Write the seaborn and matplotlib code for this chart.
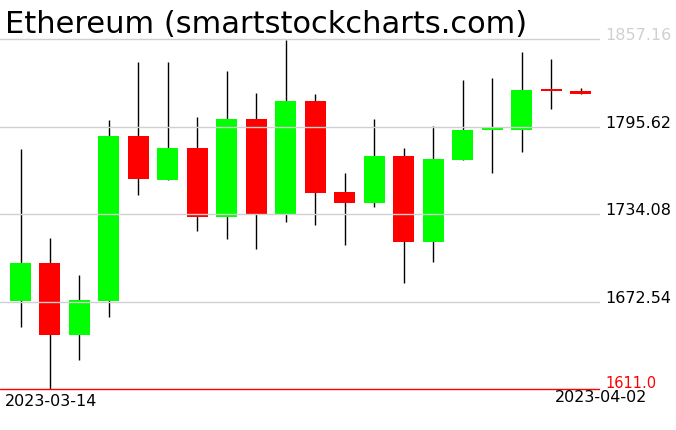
"""
Ethereum daily candles, 2023-03-14 .. 2023-04-02 (smartstockcharts style).
"""

import pandas as pd
import matplotlib
matplotlib.use("Agg")
import matplotlib.pyplot as plt
import seaborn as sns

sns.set_style("white")
plt.rcParams["font.family"] = ["DejaVu Sans"]
plt.rcParams["text.color"] = "black"

# data
dates = pd.date_range("2023-03-14", "2023-04-02", freq="D")
opens = [1673.2, 1699.7, 1649.2, 1673.2, 1789.1, 1758.2, 1780.7, 1732.3, 1801.1, 1734.2,
         1813.8, 1749.7, 1741.5, 1774.6, 1714.7, 1772.2, 1792.9, 1793.4, 1821.7, 1820.8]
highs = [1780.0, 1717.3, 1691.5, 1800.4, 1841.2, 1841.2, 1802.5, 1834.9, 1819.4, 1856.7,
         1818.7, 1763.1, 1801.1, 1780.7, 1796.0, 1828.6, 1830.0, 1847.8, 1843.4, 1822.6]
lows = [1654.9, 1611.0, 1631.6, 1661.9, 1747.1, 1757.7, 1721.8, 1716.8, 1709.8, 1728.8,
        1726.0, 1712.6, 1738.7, 1685.8, 1700.6, 1772.2, 1762.6, 1777.4, 1807.7, 1818.7]
closes = [1699.7, 1649.2, 1673.7, 1789.1, 1758.4, 1780.7, 1732.3, 1801.1, 1734.2, 1813.8,
          1749.2, 1741.5, 1774.6, 1714.7, 1772.9, 1793.4, 1794.3, 1821.5, 1820.3, 1818.7]
price_ticks = [1611.0, 1672.54, 1734.08, 1795.62, 1857.16]

df = pd.DataFrame({"date": dates, "open": opens, "high": highs,
                   "low": lows, "close": closes})
df["pos"] = range(len(df))
df["up"] = df["close"] >= df["open"]
df["body_lo"] = df[["open", "close"]].min(axis=1)
df["body_h"] = (df["open"] - df["close"]).abs()

fig = plt.figure(figsize=(6.76, 4.31), dpi=100)
ax = fig.add_axes([0, 0, 600 / 676, 1])

# wicks, then bodies on top
ax.vlines(df["pos"], df["low"], df["high"], color="black", linewidth=1, zorder=2)
colors = ["#00ff00" if u else "#ff0000" for u in df["up"]]
ax.bar(df["pos"], df["body_h"], bottom=df["body_lo"], width=0.713,
       color=colors, linewidth=0, zorder=3)

# grid and baseline
for t in price_ticks[1:]:
    ax.axhline(t, color="#d0d0d0", linewidth=1, zorder=4)
ax.axhline(price_ticks[0], color="#ff0000", linewidth=1, zorder=4)

px = (price_ticks[-1] - price_ticks[0]) / 350
ax.set_ylim(price_ticks[0] - 41 * px, price_ticks[-1] + 40 * px)
ax.set_xlim(-0.696, 19.66)
ax.set_xticks([])
ax.set_yticks([])
for s in ax.spines.values():
    s.set_visible(False)

# right-hand price labels
ytr = ax.get_yaxis_transform()
for t in price_ticks:
    if t == price_ticks[0]:
        c, fs, lab, dy = "#ff0000", 10.5, f"{t:.1f}", 2 * px
    elif t == price_ticks[-1]:
        c, fs, lab, dy = "#d0d0d0", 11.5, f"{t:.2f}", 0
    else:
        c, fs, lab, dy = "black", 11.5, f"{t:.2f}", 0
    ax.text(1 + 5 / 600, t + dy, lab, transform=ytr, color=c, fontsize=fs,
            va="baseline", ha="left", clip_on=False)

# date labels
fig.text(5 / 676, 1 - 406 / 431, df["date"].iloc[0].strftime("%Y-%m-%d"),
         fontsize=11.5, va="baseline", ha="left")
fig.text(647 / 676, 1 - 402 / 431, df["date"].iloc[-1].strftime("%Y-%m-%d"),
         fontsize=11.5, va="baseline", ha="right")

fig.text(5 / 676, 1 - 33 / 431, "Ethereum (smartstockcharts.com)",
         fontsize=22, va="baseline", ha="left")

fig.savefig("out.png", dpi=100)
